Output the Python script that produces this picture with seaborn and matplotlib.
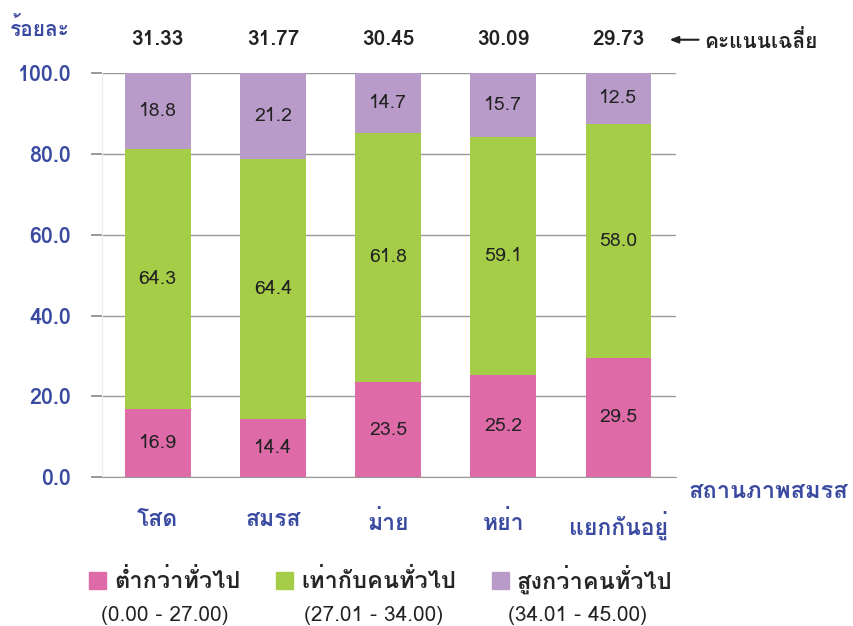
import numpy as np
import pandas as pd
import matplotlib
matplotlib.use('Agg')
import matplotlib.pyplot as plt
import seaborn as sns
from matplotlib import font_manager
from matplotlib.ft2font import FT2Font
from matplotlib.patches import Patch

# -----------------------------------------------------------
# DATA
# -----------------------------------------------------------
status = ['โสด', 'สมรส', 'ม่าย', 'หย่า', 'แยกกันอยู่']
low = [16.9, 14.4, 23.5, 25.2, 29.5]
mid = [64.3, 64.4, 61.8, 59.1, 58.0]
high = [18.8, 21.2, 14.7, 15.7, 12.5]
mean_score = ['31.33', '31.77', '30.45', '30.09', '29.73']
legend_names = ['ต่ำกว่าทั่วไป', 'เท่ากับคนทั่วไป', 'สูงกว่าคนทั่วไป']
legend_ranges = ['(0.00 - 27.00)', '(27.01 - 34.00)', '(34.01 - 45.00)']

# -----------------------------------------------------------
# FONT: pick an installed font that has Thai glyphs
# -----------------------------------------------------------
thai_font = None
for f in font_manager.fontManager.ttflist:
    try:
        if 0x0E2A in FT2Font(f.fname).get_charmap():
            thai_font = f.name
            break
    except Exception:
        pass

sns.set_style('white')
fams = [thai_font, 'DejaVu Sans'] if thai_font else ['DejaVu Sans']
plt.rcParams['font.family'] = fams

pink = '#df6aa8'
green = '#a5cd48'
purple = '#b99bc9'
blue = '#3a4aa0'
dark = '#222222'

df = pd.DataFrame({'status': status, 'low': low, 'mid': mid, 'high': high})
df['c1'] = df['low']
df['c2'] = df['low'] + df['mid']
df['c3'] = df['c2'] + df['high']

fig = plt.figure(figsize=(8.54, 6.26), dpi=100)
ax = fig.add_axes([0.119, 0.238, 0.672, 0.645])

# stacked by overlaying cumulative totals
for col, c in [('c3', purple), ('c2', green), ('c1', pink)]:
    sns.barplot(data=df, x='status', y=col, color=c, width=0.57,
                saturation=1, ax=ax, zorder=2, edgecolor='none',
                linewidth=0)

for i in range(len(status)):
    ax.text(i, low[i] / 2, f'{low[i]:.1f}', ha='center', va='center',
            fontsize=14, color=dark, zorder=3)
    ax.text(i, low[i] + mid[i] / 2, f'{mid[i]:.1f}', ha='center',
            va='center', fontsize=14, color=dark, zorder=3)
    ax.text(i, low[i] + mid[i] + high[i] / 2, f'{high[i]:.1f}',
            ha='center', va='center', fontsize=14, color=dark, zorder=3)
    ax.text(i, 108.3, mean_score[i], ha='center', va='center',
            fontsize=15, fontweight='bold', color=dark)

ax.set_xlim(-0.487, 4.496)
ax.set_ylim(0, 100)
ax.set_yticks(np.arange(0, 101, 20))
ax.set_yticklabels([f'{v:.1f}' for v in np.arange(0, 101, 20)],
                   fontsize=15.5, fontweight='bold', color=blue)
ax.set_xticks(range(len(status)))
ax.set_xticklabels(status, fontsize=16.5, fontweight='bold', color=blue)
ax.tick_params(axis='y', length=8, width=1.2, color='#888888', pad=14,
               left=True)
ax.tick_params(axis='x', length=0, pad=24)
ax.set_xlabel('')
ax.set_ylabel('')

ax.yaxis.grid(True, color='#999999', linewidth=1)
ax.set_axisbelow(True)
for s in ['top', 'right']:
    ax.spines[s].set_visible(False)
ax.spines['left'].set_color('#ececec')
ax.spines['bottom'].set_color('#999999')

fig.text(0.012, 0.955, 'ร้อยละ', fontsize=15, fontweight='bold',
         color=blue, ha='left', va='center')
fig.text(0.806, 0.215, 'สถานภาพสมรส', fontsize=17, fontweight='bold',
         color=blue, ha='left', va='center')

ax.annotate('', xy=(4.42, 108.3), xytext=(4.72, 108.3),
            arrowprops=dict(arrowstyle='-|>,head_length=0.5,head_width=0.2',
                            color=dark, lw=1.5),
            annotation_clip=False)
fig.text(0.825, 0.935, 'คะแนนเฉลี่ย', fontsize=15, fontweight='bold',
         color=dark, ha='left', va='center')

handles = [Patch(color=pink), Patch(color=green), Patch(color=purple)]
fig.legend(handles, legend_names, ncol=3, loc='center',
           bbox_to_anchor=(0.446, 0.075), frameon=False,
           prop={'size': 17, 'weight': 'bold'}, handlelength=0.72,
           handleheight=0.72, handletextpad=0.35, columnspacing=1.5)
for xpos, r in zip([0.193, 0.437, 0.676], legend_ranges):
    fig.text(xpos, 0.016, r, fontsize=15, color=dark, ha='center',
             va='center')

plt.savefig('out.png', dpi=100)
